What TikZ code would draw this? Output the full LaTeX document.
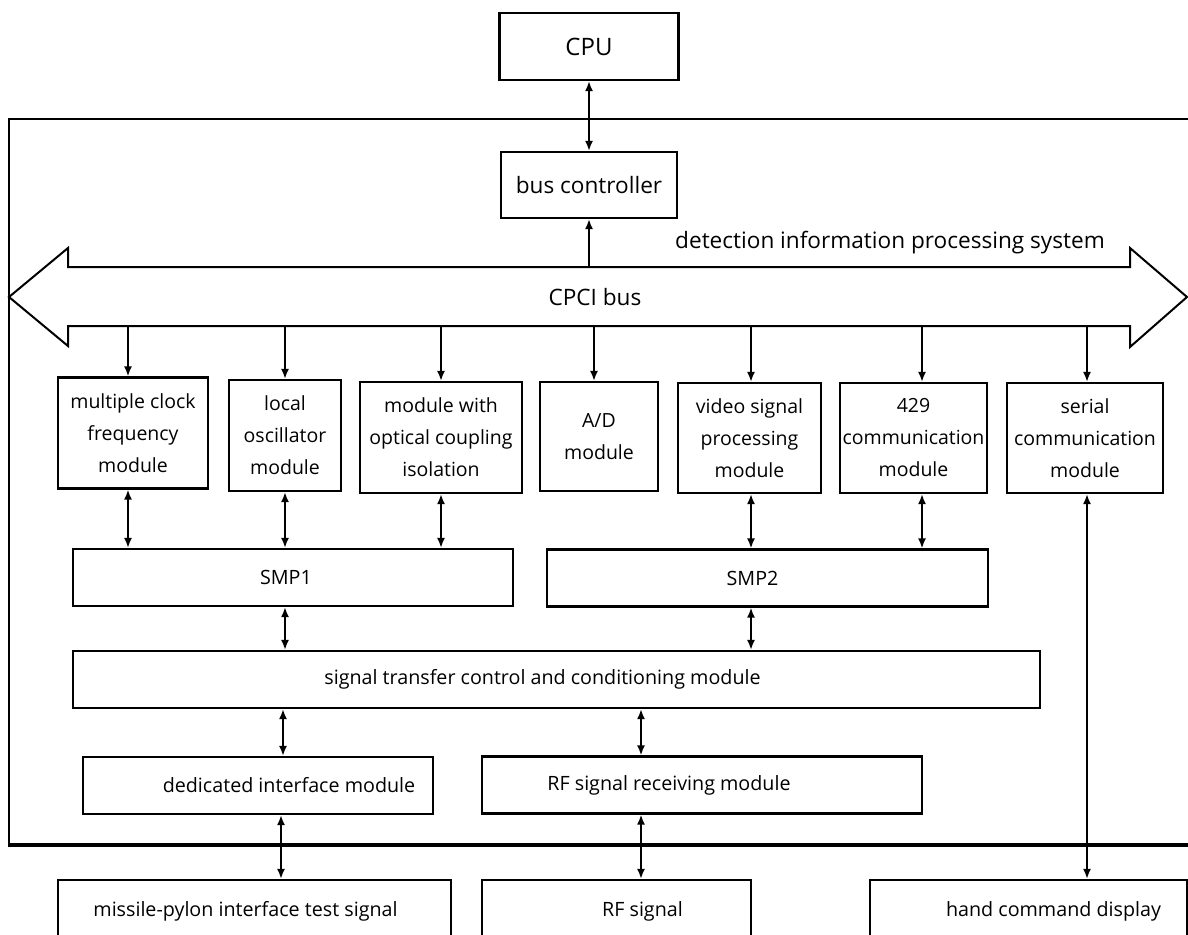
\documentclass[tikz,border=0pt]{standalone}
\usepackage{fontspec}
\setmainfont{Open Sans}
\usetikzlibrary{arrows.meta}

\begin{document}
\begin{tikzpicture}[x=1pt,y=-1pt,
	blk/.style={draw, line width=2.2pt, inner sep=0pt, align=center},
	modbox/.style={blk, font=\fontsize{19.5}{32}\selectfont},
	bigbox/.style={blk, font=\fontsize{22.6}{26}\selectfont},
	lowbox/.style={blk, font=\fontsize{19.7}{24}\selectfont, minimum height=57pt},
	lnk/.style={line width=1.8pt, -{Latex[length=10pt,width=8pt]}},
	dbl/.style={line width=1.8pt, {Latex[length=10pt,width=8pt]}-{Latex[length=10pt,width=8pt]}}]

	\useasboundingbox (0,0) rectangle (1188,934);
	\clip (0,0) rectangle (1188,934);

	% Moldura do sistema
	\draw[line width=2.5pt] (1190,119) -- (9,119) -- (9,845);
	\draw[line width=4pt] (8,845) -- (1190,845);

	% Barramento CPCI (seta dupla)
	\draw[line width=2pt, line join=miter] (9,297) -- (68,248) -- (68,267) -- (1130,267)
		-- (1130,248) -- (1187,297) -- (1130,347) -- (1130,326)
		-- (68,326) -- (68,346) -- cycle;
	\coordinate (busT) at (589,267);
	\coordinate (busB) at (0,326);
	\node[font=\fontsize{22.6}{26}\selectfont] (bus) at (595,297) {CPCI bus};
	\node[font=\fontsize{22.6}{26}\selectfont] (sysl) at (890,243) {detection information processing system};

	% CPU e controlador
	\node[bigbox, font=\fontsize{24}{28}\selectfont, minimum width=179pt, minimum height=67pt] (cpu) at (589,46.5) {CPU};
	\node[bigbox, minimum width=176pt, minimum height=66pt] (busctl) at (589,185) {bus controller};
	\draw[dbl] (cpu) -- (busctl);
	\draw[lnk] (busT) -- (busctl);

	% Modulos
	\node[modbox, minimum width=150pt, minimum height=111pt] (mclk) at (133,433) {multiple clock\\frequency\\module};
	\node[modbox, minimum width=112pt, minimum height=111pt] (losc) at (285,435.5) {local\\oscillator\\module};
	\node[modbox, minimum width=162pt, minimum height=111pt] (optic) at (441,437.5) {module with\\optical coupling\\isolation};
	\node[modbox, minimum width=118pt, minimum height=109pt] (adc) at (599,436.5) {A/D\\module};
	\node[modbox, minimum width=143pt, minimum height=110pt] (video) at (749.5,438) {video signal\\processing\\module};
	\node[modbox, minimum width=147pt, minimum height=110pt] (comm) at (913.5,438) {429\\communication\\module};
	\node[modbox, minimum width=156pt, minimum height=110pt] (serial) at (1085,438) {serial\\communication\\module};

	% Colunas das ligacoes
	\foreach \n/\x in {mclk/128, losc/285, optic/441, adc/594, video/751, comm/922, serial/1087}
		\coordinate (x\n) at (\x,0);
	\foreach \n in {mclk, losc, optic, adc, video, comm, serial}
		\draw[lnk] (busB -| x\n) -- (\n.north -| x\n);

	% SMP
	\node[lowbox, minimum width=440pt] (smp1) at (293,577.5) {SMP1\hspace*{14pt}};
	\node[lowbox, minimum width=441pt] (smp2) at (767.5,578) {SMP2\hspace*{30pt}};
	\foreach \n in {mclk, losc, optic}
		\draw[dbl] (\n.south -| x\n) -- (smp1.north -| x\n);
	\foreach \n in {video, comm}
		\draw[dbl] (\n.south -| x\n) -- (smp2.north -| x\n);

	% Transferencia e interfaces
	\node[lowbox, minimum width=967pt] (sigtr) at (556.5,679.5) {signal transfer control and conditioning module\hspace*{28pt}};
	\node[lowbox, minimum width=350pt] (dedic) at (258,785.5) {\hspace*{62pt}dedicated interface module};
	\node[lowbox, minimum width=440pt] (rfrx) at (702,785) {RF signal receiving module\hspace*{66pt}};
	\draw[dbl] (smp1.south -| xlosc) -- (sigtr.north -| xlosc);
	\draw[dbl] (smp2.south -| xvideo) -- (sigtr.north -| xvideo);
	\coordinate (xd) at (283,0);
	\coordinate (xr) at (641,0);
	\draw[dbl] (sigtr.south -| xd) -- (dedic.north -| xd);
	\draw[dbl] (sigtr.south -| xr) -- (rfrx.north -| xr);

	% Sinais externos
	\node[lowbox, minimum width=393pt, minimum height=62pt] (missile) at (254.5,911) {missile-pylon interface test signal\hspace*{18pt}};
	\node[lowbox, minimum width=269pt, minimum height=62pt] (rfsig) at (616.5,911) {\hspace*{52pt}RF signal};
	\node[lowbox, minimum width=317pt, minimum height=62pt] (hand) at (1028.5,911) {\hspace*{50pt}hand command display};
	\coordinate (xm) at (281,0);
	\draw[dbl] (dedic.south -| xm) -- (missile.north -| xm);
	\draw[dbl] (rfrx.south -| xr) -- (rfsig.north -| xr);
	\draw[dbl] (serial.south -| xserial) -- (hand.north -| xserial);

\end{tikzpicture}
\end{document}
